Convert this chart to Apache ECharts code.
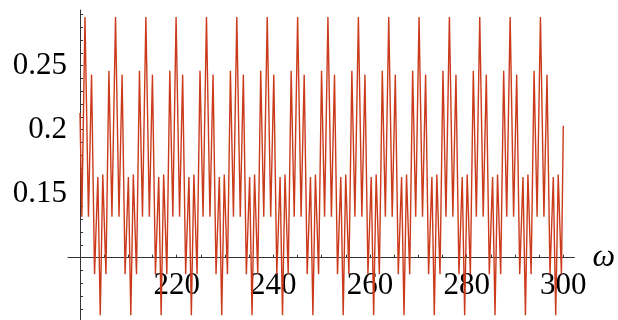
<!DOCTYPE html>
<html>
<head>
<meta charset="utf-8">
<script src="https://cdn.jsdelivr.net/npm/echarts@6.0.0/dist/echarts.min.js"></script>
<style>
  html, body { margin: 0; padding: 0; background: #fff; }
  #chart { width: 618px; height: 320px; }
</style>
</head>
<body>
<div id="chart"></div>
<script>
// omega values (one row per period of the oscillation)
const omega = [
  200.00, 200.38,
  201.03, 201.75, 202.39, 203.01, 203.69, 204.19, 204.71, 205.37, 205.98, 206.61,
  207.35, 208.07, 208.71, 209.33, 210.01, 210.51, 211.03, 211.69, 212.30, 212.93,
  213.63, 214.35, 214.99, 215.61, 216.29, 216.79, 217.31, 217.97, 218.58, 219.21,
  219.88, 220.60, 221.24, 221.86, 222.54, 223.04, 223.56, 224.22, 224.83, 225.46,
  226.17, 226.89, 227.53, 228.15, 228.83, 229.33, 229.85, 230.51, 231.12, 231.75,
  232.44, 233.16, 233.80, 234.42, 235.10, 235.60, 236.12, 236.78, 237.39, 238.02,
  238.74, 239.46, 240.10, 240.72, 241.40, 241.90, 242.42, 243.08, 243.69, 244.32,
  245.03, 245.75, 246.39, 247.01, 247.69, 248.19, 248.71, 249.37, 249.98, 250.61,
  251.30, 252.02, 252.66, 253.28, 253.96, 254.46, 254.98, 255.64, 256.25, 256.88,
  257.60, 258.32, 258.96, 259.58, 260.26, 260.76, 261.28, 261.94, 262.55, 263.18,
  263.88, 264.60, 265.24, 265.86, 266.54, 267.04, 267.56, 268.22, 268.83, 269.46,
  270.15, 270.87, 271.51, 272.13, 272.81, 273.31, 273.83, 274.49, 275.10, 275.73,
  276.43, 277.15, 277.79, 278.41, 279.09, 279.59, 280.11, 280.77, 281.38, 282.01,
  282.71, 283.43, 284.07, 284.69, 285.37, 285.87, 286.39, 287.05, 287.66, 288.29,
  289.00, 289.72, 290.36, 290.98, 291.66, 292.16, 292.68, 293.34, 293.95, 294.58,
  295.27, 295.99, 296.63, 297.25, 297.93, 298.43, 298.95, 299.61, 300.00
];
const response = [
  0.213, 0.132,
  0.288, 0.132, 0.243, 0.087, 0.163, 0.055, 0.165, 0.087, 0.246, 0.132,
  0.288, 0.132, 0.243, 0.087, 0.163, 0.055, 0.165, 0.087, 0.246, 0.132,
  0.288, 0.132, 0.243, 0.087, 0.163, 0.055, 0.165, 0.087, 0.246, 0.132,
  0.288, 0.132, 0.243, 0.087, 0.163, 0.055, 0.165, 0.087, 0.246, 0.132,
  0.288, 0.132, 0.243, 0.087, 0.163, 0.055, 0.165, 0.087, 0.246, 0.132,
  0.288, 0.132, 0.243, 0.087, 0.163, 0.055, 0.165, 0.087, 0.246, 0.132,
  0.288, 0.132, 0.243, 0.087, 0.163, 0.055, 0.165, 0.087, 0.246, 0.132,
  0.288, 0.132, 0.243, 0.087, 0.163, 0.055, 0.165, 0.087, 0.246, 0.132,
  0.288, 0.132, 0.243, 0.087, 0.163, 0.055, 0.165, 0.087, 0.246, 0.132,
  0.288, 0.132, 0.243, 0.087, 0.163, 0.055, 0.165, 0.087, 0.246, 0.132,
  0.288, 0.132, 0.243, 0.087, 0.163, 0.055, 0.165, 0.087, 0.246, 0.132,
  0.288, 0.132, 0.243, 0.087, 0.163, 0.055, 0.165, 0.087, 0.246, 0.132,
  0.288, 0.132, 0.243, 0.087, 0.163, 0.055, 0.165, 0.087, 0.246, 0.132,
  0.288, 0.132, 0.243, 0.087, 0.163, 0.055, 0.165, 0.087, 0.246, 0.132,
  0.288, 0.132, 0.243, 0.087, 0.163, 0.055, 0.165, 0.087, 0.246, 0.132,
  0.288, 0.132, 0.243, 0.087, 0.163, 0.055, 0.165, 0.087, 0.203
];
const xTickLabels = [220, 240, 260, 280, 300];
const yTickLabels = ['0.15', '0.2', '0.25'];

const FONT = 'Liberation Serif';
const AXIS = '#333';
const CURVE = '#cc3a1c';

const chart = echarts.init(document.getElementById('chart'));

// y runs 0.0513..0.2935 over the full height; the x axis sits at y = 0.1
const yMin = 0.0513, yMax = 0.2935;
const pxPerY = 310 / (yMax - yMin);
const axisY = 10 + (yMax - 0.1) * pxPerY;

const hidden = { show: false, splitLine: { show: false } };

chart.setOption({
  animation: false,
  grid: [
    { left: 80, right: 54.7, top: 10, bottom: 0 },                    // curve + y axis line
    { left: 80, right: 54.7, top: 10 + (yMax - 0.29) * pxPerY,
      bottom: 320 - (10 + (yMax - 0.06) * pxPerY) },                  // y ticks
    { left: 80, right: 54.7, top: 0, height: axisY },                  // x ticks
    { left: 68, right: 43, top: 0, height: axisY }                     // x axis line
  ],
  xAxis: [
    Object.assign({ type: 'value', gridIndex: 0, min: 200, max: 300 }, hidden),
    Object.assign({ type: 'value', gridIndex: 1, min: 200, max: 300 }, hidden),
    {
      type: 'value', gridIndex: 2, min: 200, max: 300, interval: 5,
      splitLine: { show: false },
      axisLine: { show: false },
      axisTick: { show: true, inside: true, length: 3, lineStyle: { color: AXIS } },
      axisLabel: {
        margin: 13, color: '#000', fontFamily: FONT, fontSize: 31,
        showMinLabel: true, showMaxLabel: true,
        formatter: v => (xTickLabels.indexOf(Math.round(v)) >= 0 ? String(Math.round(v)) : '')
      }
    },
    {
      type: 'value', gridIndex: 3, min: 197.5, max: 302.5,
      splitLine: { show: false },
      axisLine: { show: true, lineStyle: { color: AXIS, width: 1 } },
      axisTick: { show: false },
      axisLabel: { show: false },
      name: 'ω', nameLocation: 'end', nameGap: 18,
      nameTextStyle: { color: '#000', fontFamily: FONT, fontStyle: 'italic', fontSize: 32,
        padding: [8, 0, 0, 0] }
    }
  ],
  yAxis: [
    {
      type: 'value', gridIndex: 0, min: yMin, max: yMax,
      splitLine: { show: false },
      axisLine: { show: true, lineStyle: { color: AXIS, width: 1 } },
      axisTick: { show: false },
      axisLabel: { show: false }
    },
    {
      type: 'value', gridIndex: 1, min: 0.06, max: 0.29, interval: 0.01,
      splitLine: { show: false },
      axisLine: { show: false },
      axisTick: { show: true, inside: true, length: 3, lineStyle: { color: AXIS } },
      axisLabel: {
        margin: 13, color: '#000', fontFamily: FONT, fontSize: 31,
        formatter: v => {
          const s = String(+v.toFixed(2));
          return yTickLabels.indexOf(s) >= 0 ? s : '';
        }
      }
    },
    Object.assign({ type: 'value', gridIndex: 2, min: 0, max: 1 }, hidden),
    Object.assign({ type: 'value', gridIndex: 3, min: 0, max: 1 }, hidden)
  ],
  series: [{
    type: 'line',
    xAxisIndex: 0,
    yAxisIndex: 0,
    data: omega.map((w, i) => [w, response[i]]),
    showSymbol: false,
    clip: false,
    lineStyle: { color: CURVE, width: 1.4 }
  }]
});

window.addEventListener('resize', () => chart.resize());
</script>
</body>
</html>
